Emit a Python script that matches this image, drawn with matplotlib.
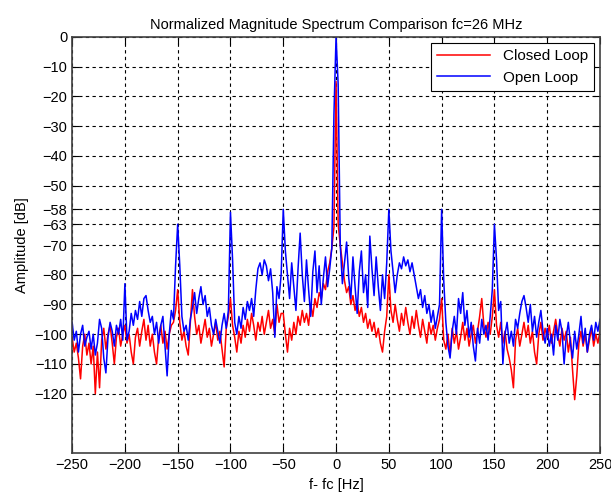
import numpy as np
import matplotlib
matplotlib.use("Agg")
import matplotlib.pyplot as plt

plt.rcParams['font.family'] = ['Liberation Sans', 'DejaVu Sans']

# frequency offset, 2 Hz steps from -250 to 250
freq = np.arange(-250, 251, 2)

# open loop spectrum [dB] in 50 Hz blocks
open_a = [-96, -102, -99, -106, -100, -97, -104, -101, -99, -105, -100, -107, -103,
          -95, -98, -108, -113, -101, -96, -99, -104, -97, -100, -95, -102]
open_b = [-83, -102, -99, -93, -97, -92, -95, -89, -94, -88, -87, -92, -96,
          -94, -100, -96, -103, -97, -94, -104, -114, -100, -92, -95, -77]
open_c = [-63, -77, -94, -99, -97, -102, -95, -91, -86, -93, -88, -84, -90,
          -87, -94, -91, -97, -100, -95, -99, -103, -97, -93, -98, -92]
open_d = [-59, -75, -96, -100, -94, -98, -91, -95, -89, -92, -88, -94, -85,
          -78, -76, -80, -75, -77, -82, -78, -86, -101, -84, -88, -80]
open_e = [-58, -72, -80, -88, -76, -84, -92, -78, -66, -80, -89, -75, -85,
          -94, -79, -72, -86, -77, -90, -81, -74, -84, -78, -71, -26]
open_f = [0, -16, -70, -83, -76, -69, -81, -88, -74, -84, -93, -79, -72,
          -86, -80, -91, -67, -78, -87, -74, -84, -92, -80, -88, -76]
open_g = [-58, -72, -79, -86, -80, -76, -78, -74, -77, -75, -79, -76, -80,
          -84, -88, -85, -91, -87, -93, -90, -96, -92, -98, -94, -90]
open_h = [-58, -82, -96, -104, -108, -99, -94, -100, -88, -93, -86, -97, -92,
          -101, -96, -104, -109, -98, -103, -95, -100, -97, -102, -94, -85]
open_i = [-63, -75, -92, -89, -110, -100, -96, -103, -99, -104, -95, -98, -93,
          -89, -87, -91, -96, -90, -99, -94, -101, -96, -92, -99, -103]
open_j = [-98, -104, -100, -107, -97, -102, -95, -99, -110, -101, -96, -103, -108,
          -99, -105, -100, -94, -103, -98, -106, -100, -97, -102, -96, -99, -95]

# closed loop spectrum [dB]
closed_a = [-101, -106, -103, -108, -115, -104, -100, -107, -103, -110, -104, -120, -106,
            -118, -102, -98, -105, -100, -97, -103, -110, -101, -98, -104, -100]
closed_b = [-97, -103, -100, -106, -110, -101, -98, -104, -99, -95, -102, -97, -104,
            -100, -106, -110, -101, -97, -103, -99, -105, -100, -97, -96, -92]
closed_c = [-85, -96, -102, -99, -104, -107, -96, -85, -94, -100, -97, -103, -99,
            -95, -101, -98, -104, -100, -96, -102, -99, -105, -111, -98, -94]
closed_d = [-88, -97, -101, -106, -99, -103, -97, -101, -95, -99, -93, -97, -102,
            -96, -99, -94, -100, -96, -92, -98, -95, -100, -90, -96, -93]
closed_e = [-93, -100, -106, -98, -102, -96, -100, -94, -97, -92, -96, -93, -97,
            -90, -94, -88, -91, -86, -88, -83, -85, -79, -76, -71, -64]
closed_f = [-15, -63, -70, -76, -82, -86, -84, -90, -87, -92, -89, -94, -91,
            -96, -93, -98, -95, -99, -96, -101, -98, -103, -106, -99, -94]
closed_g = [-80, -92, -96, -90, -95, -99, -93, -97, -91, -96, -100, -94, -98,
            -92, -97, -101, -95, -99, -103, -96, -100, -97, -102, -98, -95]
closed_h = [-88, -102, -105, -100, -107, -98, -103, -99, -105, -101, -96, -102, -98,
            -104, -100, -97, -103, -99, -94, -88, -97, -101, -96, -100, -94]
closed_i = [-85, -97, -101, -96, -103, -99, -105, -108, -112, -118, -102, -98, -104,
            -100, -96, -101, -97, -103, -99, -106, -110, -100, -96, -102, -98]
closed_j = [-101, -97, -103, -99, -95, -100, -104, -98, -102, -99, -106, -101, -112,
            -122, -114, -103, -99, -104, -100, -106, -102, -98, -104, -100, -103, -99]

open_loop = np.array(open_a + open_b + open_c + open_d + open_e +
                     open_f + open_g + open_h + open_i + open_j)
closed_loop = np.array(closed_a + closed_b + closed_c + closed_d + closed_e +
                       closed_f + closed_g + closed_h + closed_i + closed_j)

yticks = [-120, -110, -100, -90, -80, -70, -63, -58, -50, -40, -30, -20, -10, 0]
xticks = np.arange(-250, 251, 50)

fig = plt.figure(figsize=(6.11, 4.98), dpi=100)
ax = fig.add_axes([0.118, 0.090, 0.864, 0.836])

ax.plot(freq, closed_loop, color='red', lw=1.1, label='Closed Loop')
ax.plot(freq, open_loop, color='blue', lw=1.1, label='Open Loop')

ax.set_xlim(-250, 250)
ax.set_ylim(-140, 0)
ax.set_xticks(xticks)
ax.set_yticks(yticks)
ax.grid(True, color='black', linestyle=(0, (3, 3)), linewidth=0.8)
ax.tick_params(direction='in', top=True, right=True, length=5, labelsize=10.5)
for s in ax.spines.values():
    s.set_linewidth(1.2)
    s.set_color('#404040')

ax.set_title('Normalized Magnitude Spectrum Comparison fc=26 MHz', fontsize=10.5)
ax.set_xlabel('f- fc [Hz]', fontsize=10.5)
ax.set_ylabel('Amplitude [dB]', fontsize=10.5)

leg = ax.legend(loc='upper right', fontsize=11, fancybox=False, framealpha=1,
                edgecolor='black', borderaxespad=0.4, handlelength=3.5)
leg.get_frame().set_linewidth(0.8)

fig.savefig('out.png', dpi=100)
